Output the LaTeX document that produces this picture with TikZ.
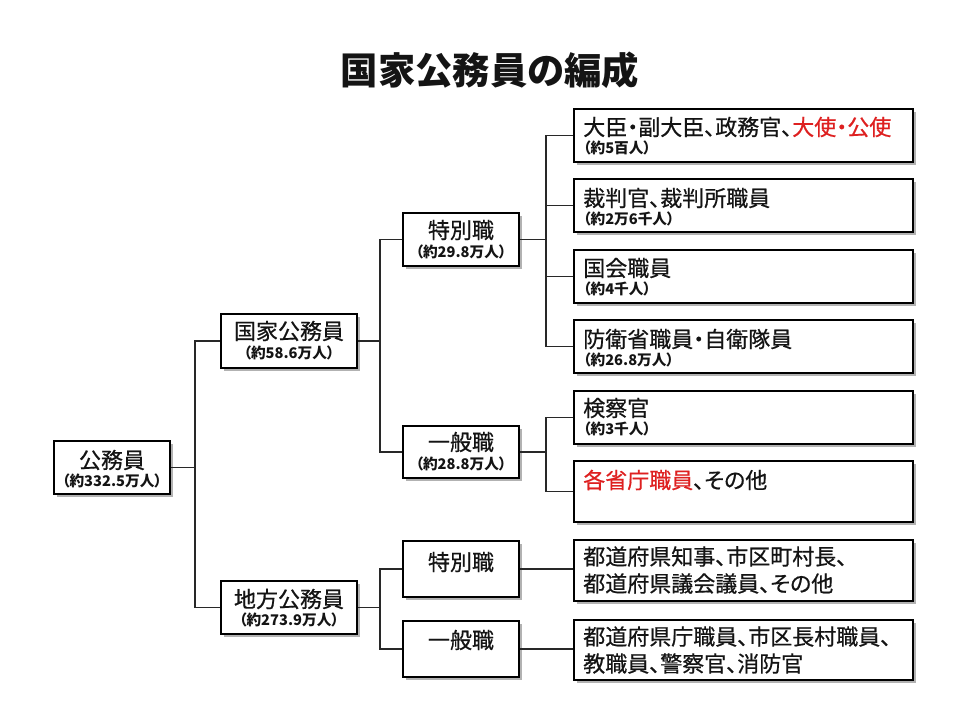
\documentclass[tikz,border=0pt]{standalone}
\usepackage{fontspec}
\setmainfont{Noto Sans CJK JP}[RawFeature=+palt]
\newfontfamily\medfont{Noto Sans CJK JP}[RawFeature=+palt, FakeBold=0.6]
\usetikzlibrary{shadows,fit}
\definecolor{redtxt}{RGB}{222,32,32}
\definecolor{conncol}{RGB}{40,40,40}
\definecolor{txt}{RGB}{20,20,20}
\tikzset{
  box/.style={draw=black, line width=1pt, fill=white, inner sep=0pt,
    drop shadow={shadow xshift=2pt, shadow yshift=-2pt, fill=black, opacity=0.3}},
  conn/.style={draw=conncol, line width=0.8pt},
  main/.style={font=\medfont\fontsize{16.5}{20.25}\selectfont, inner sep=0pt, text=txt},
  sub/.style={font=\bfseries\fontsize{11}{13}\selectfont, inner sep=0pt, text=txt},
  lmain/.style={main, anchor=west, align=left},
  lsub/.style={sub, anchor=west},
}
\begin{document}
\begin{tikzpicture}[x=0.75pt,y=-0.75pt]
\fill[white] (0,0) rectangle (960,720);
\useasboundingbox (0,0) rectangle (960,720);

% title
\node[font=\bfseries\fontsize{28}{32}\selectfont, text=txt] (title) at (490,70) {国家公務員の編成};

% level 0
\node[box, fit={(54,441) (170,494)}] (kou) {};
\node[main] (koum) at (112,460) {公務員};
\node[sub] (kous) at (112,481) {（約332.5万人）};

% level 1
\node[box, fit={(221,314) (357,368)}] (kokka) {};
\node[main] (kokkam) at (289,331) {国家公務員};
\node[sub] (kokkas) at (289,353) {（約58.6万人）};

\node[box, fit={(221,581) (357,634)}] (chiho) {};
\node[main] (chihom) at (289,599) {地方公務員};
\node[sub] (chihos) at (289,620) {（約273.9万人）};

% level 2
\node[box, fit={(403,213) (519,266)}] (tokN) {};
\node[main] (tokNm) at (461,230) {特別職};
\node[sub] (tokNs) at (461,252) {（約29.8万人）};

\node[box, fit={(403,426) (519,478)}] (ippN) {};
\node[main] (ippNm) at (461,442) {一般職};
\node[sub] (ippNs) at (461,464) {（約28.8万人）};

\node[box, fit={(403,541) (519,597)}] (tokL) {};
\node[main] (tokLm) at (461,562) {特別職};

\node[box, fit={(403,621) (519,677)}] (ippL) {};
\node[main] (ippLm) at (461,640) {一般職};

% level 3
\node[box, fit={(574,109) (913,162)}] (b1) {};
\node[lmain] (b1m) at (583,127) {大臣・副大臣、政務官、\textcolor{redtxt}{大使・公使}};
\node[lsub] (b1s) at (583,148) {（約5百人）};

\node[box, fit={(574,179) (913,232)}] (b2) {};
\node[lmain] (b2m) at (583,198) {裁判官、裁判所職員};
\node[lsub] (b2s) at (583,219) {（約2万6千人）};

\node[box, fit={(574,250) (913,303)}] (b3) {};
\node[lmain] (b3m) at (583,268) {国会職員};
\node[lsub] (b3s) at (583,289) {（約4千人）};

\node[box, fit={(574,320) (913,373)}] (b4) {};
\node[lmain] (b4m) at (583,339) {防衛省職員・自衛隊員};
\node[lsub] (b4s) at (583,360) {（約26.8万人）};

\node[box, fit={(574,391) (913,444)}] (b5) {};
\node[lmain] (b5m) at (583,408) {検察官};
\node[lsub] (b5s) at (583,429) {（約3千人）};

\node[box, fit={(574,461) (913,522)}] (b6) {};
\node[lmain] (b6m) at (583,480) {\textcolor{redtxt}{各省庁職員}、その他};

\node[box, fit={(574,540) (913,601)}] (b7) {};
\node[lmain] (b7m) at (583,570) {都道府県知事、市区町村長、\\都道府県議会議員、その他};

\node[box, fit={(574,620) (913,680)}] (b8) {};
\node[lmain] (b8m) at (583,650) {都道府県庁職員、市区長村職員、\\教職員、警察官、消防官};

% connectors
\coordinate (j1) at (195,467.5);
\draw[conn] (kou.east) -- (j1);
\draw[conn] (kokka.west) -| (j1) |- (chiho.west);

\coordinate (j2) at (380,341);
\draw[conn] (kokka.east) -- (j2);
\draw[conn] (tokN.west) -| (j2) |- (ippN.west);

\coordinate (j3) at (546,239.5);
\draw[conn] (tokN.east) -- (j3);
\draw[conn] (b1.west) -| (j3) |- (b4.west);
\draw[conn] (b2.west) -- (b2.west -| j3);
\draw[conn] (b3.west) -- (b3.west -| j3);

\coordinate (j4) at (546,452);
\draw[conn] (ippN.east) -- (j4);
\draw[conn] (b5.west) -| (j4) |- (b6.west);

\coordinate (j5) at (380,607.5);
\draw[conn] (chiho.east) -- (j5);
\draw[conn] (tokL.west) -| (j5) |- (ippL.west);

\draw[conn] (tokL.east) -- (tokL.east -| b7.west);
\draw[conn] (ippL.east) -- (ippL.east -| b8.west);
\end{tikzpicture}
\end{document}
